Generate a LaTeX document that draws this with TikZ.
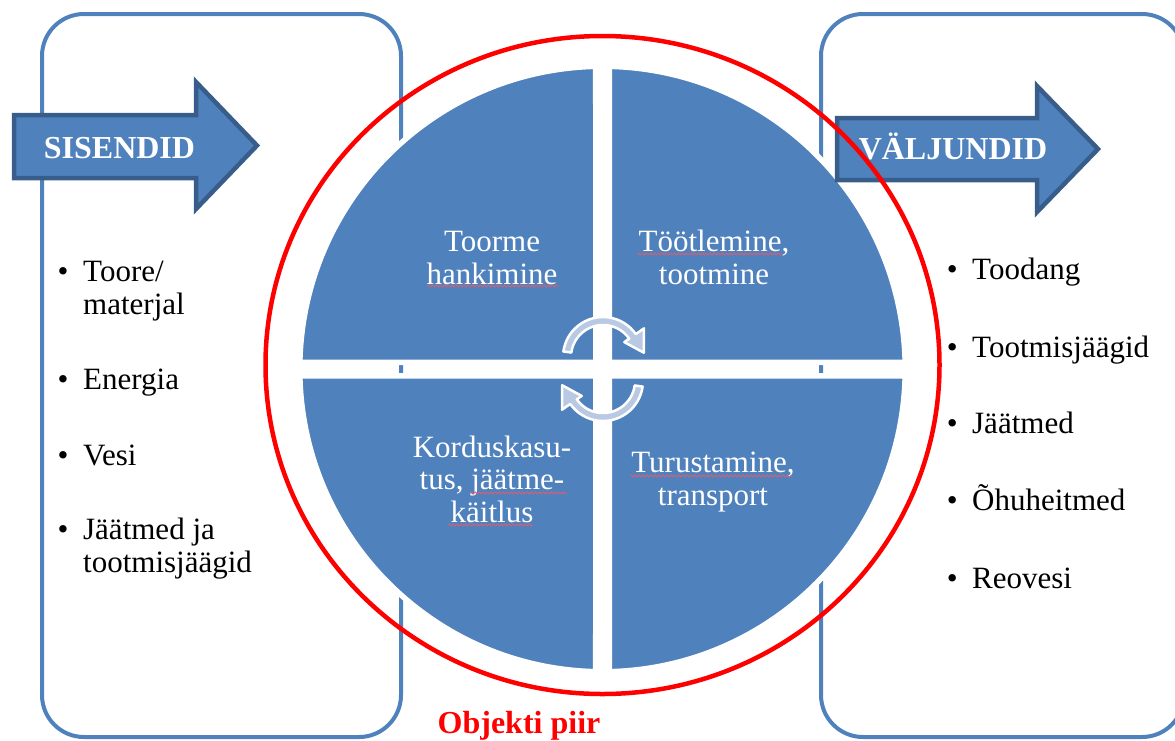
\documentclass[tikz,border=0pt]{standalone}
\usepackage{fontspec}
\setmainfont{Liberation Serif}
\usetikzlibrary{decorations.pathmorphing}
\definecolor{pieblue}{RGB}{79,129,189}
\definecolor{arrowline}{RGB}{56,93,138}
\definecolor{turnfill}{RGB}{185,200,227}
\definecolor{squiggle}{RGB}{215,95,115}
\newcommand{\itembullet}{\llap{\textbullet\hspace{14.6pt}}}
\begin{document}
\begin{tikzpicture}[x=1pt,y=-1pt,
    frame/.style={draw=pieblue,line width=4pt,rounded corners=42pt},
    quarter/.style={fill=pieblue,draw=white,line width=5.5pt},
    blockarrow/.style={fill=pieblue,draw=arrowline,line width=4.5pt,line join=miter},
    turnarrow/.style={fill=turnfill,draw=white,line width=2.5pt,line join=round},
    boundary/.style={draw=red,line width=4.5pt},
    heading/.style={anchor=base,inner sep=0pt,text=white,font=\bfseries\fontsize{32}{34}\selectfont},
    stage/.style={anchor=base,inner sep=0pt,text=white,align=center,font=\fontsize{31}{32.5}\selectfont},
    item/.style={anchor=base west,inner sep=0pt,align=left,font=\fontsize{31}{33}\selectfont},
    spell/.style={draw=squiggle,line width=0.8pt,decorate,decoration={snake,amplitude=1pt,segment length=4pt}}]
  \useasboundingbox (0,0) rectangle (1175,740);
  \draw[frame] (42,14) rectangle (401,737);
  \draw[frame] (821,14) rectangle (1184,737);
  \begin{scope}[shift={(602.5,369)}]
    \foreach \a in {0,90,180,270}
      \draw[quarter] (\a+45:9.55) -- (\a+1.28:302.75)
        arc[start angle=\a+1.28,end angle=\a+88.72,radius=302.75] -- cycle;
  \end{scope}
  \draw[blockarrow] (14,115) -- (196,115) -- (196,82) -- (257,145.5)
    -- (196,209) -- (196,178) -- (14,178) -- cycle;
  \draw[blockarrow] (837,118) -- (1037,118) -- (1037,86) -- (1098,149)
    -- (1037,212) -- (1037,180) -- (837,180) -- cycle;
  \begin{scope}[shift={(603,357)}]
    \draw[turnarrow] (188:40) arc[start angle=188,end angle=325,radius=40]
      -- (325:50) -- (354:41) -- (325:26) -- (325:32)
      arc[start angle=325,end angle=188,radius=32] -- cycle;
  \end{scope}
  \begin{scope}[shift={(603,381)}]
    \draw[turnarrow] (8:40) arc[start angle=8,end angle=145,radius=40]
      -- (145:50) -- (174:41) -- (145:26) -- (145:32)
      arc[start angle=145,end angle=8,radius=32] -- cycle;
  \end{scope}
  \draw[boundary] (602.5,365) ellipse [x radius=337,y radius=329];
  \node[heading] (sisendid) at (119.5,158) {SISENDID};
  \node[heading] (valjundid) at (953,159.5) {VÄLJUNDID};
  \node[heading,text=red] (piir) at (519,733) {Objekti piir};
  \node[stage] (hankimine) at (492,284) {Toorme\\hankimine};
  \node[stage] (tootlemine) at (714,284) {Töötlemine,\\tootmine};
  \node[stage] (kaitlus) at (492,522) {Korduskasu-\\tus, jäätme-\\käitlus};
  \node[stage] (turustamine) at (713,505) {Turustamine,\\transport};
  \node[item] (toore) at (83,314) {\itembullet Toore/\\materjal};
  \node[item] (energia) at (83,389) {\itembullet Energia};
  \node[item] (vesi) at (83,465) {\itembullet Vesi};
  \node[item] (jaatmed) at (83,572) {\itembullet Jäätmed ja\\tootmisjäägid};
  \node[item] (toodang) at (972,279) {\itembullet Toodang};
  \node[item] (tootmisjaagid) at (972,357) {\itembullet Tootmisjäägid};
  \node[item] (jaatmedout) at (972,433) {\itembullet Jäätmed};
  \node[item] (ohuheitmed) at (972,510) {\itembullet Õhuheitmed};
  \node[item] (reovesi) at (972,588) {\itembullet Reovesi};
  \draw[spell] (427,286) -- (559,286);
  \draw[spell] (637,254) -- (783,254);
  \draw[spell] (470,493) -- (567,493);
  \draw[spell] (448,525) -- (533,525);
  \draw[spell] (630,476) -- (792,476);
\end{tikzpicture}
\end{document}
